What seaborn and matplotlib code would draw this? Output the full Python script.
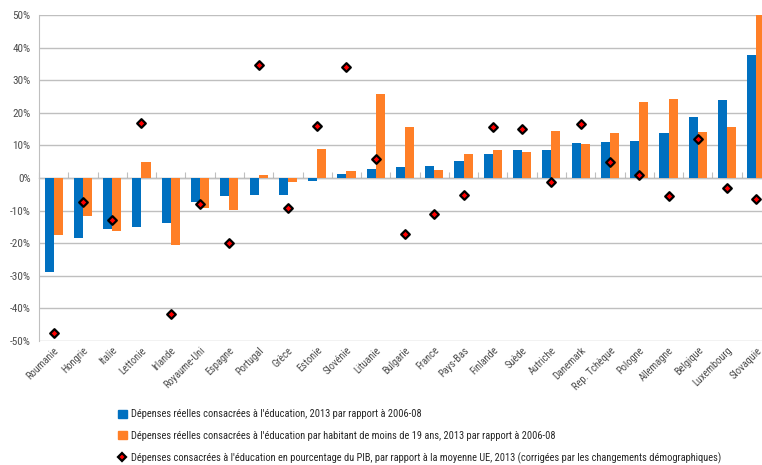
import matplotlib as mpl
mpl.use("Agg")
import matplotlib.pyplot as plt
import matplotlib.patches as mpatches
from matplotlib.lines import Line2D
from matplotlib.ticker import FuncFormatter
import pandas as pd
import seaborn as sns

# donnees (en %)
pays = ['Roumanie', 'Hongrie', 'Italie', 'Lettonie', 'Irlande', 'Royaume-Uni', 'Espagne',
        'Portugal', 'Grèce', 'Estonie', 'Slovénie', 'Lituanie', 'Bulgarie', 'France',
        'Pays-Bas', 'Finlande', 'Suède', 'Autriche', 'Danemark', 'Rep. Tchèque',
        'Pologne', 'Allemagne', 'Belgique', 'Luxembourg', 'Slovaquie']
depenses_reelles = [-28.9, -18.3, -15.7, -15.1, -13.9, -7.3, -5.6, -5.1, -5.1, -1.0,
                    1.3, 2.9, 3.4, 3.7, 5.2, 7.4, 8.6, 8.7, 10.7, 11.0,
                    11.3, 13.7, 18.7, 23.9, 37.7]
depenses_par_habitant = [-17.5, -11.8, -16.2, 4.9, -20.6, -9.1, -9.7, 1.0, -1.1, 8.9,
                         2.1, 25.7, 15.5, 2.4, 7.3, 8.5, 8.1, 14.3, 10.5, 13.8,
                         23.4, 24.2, 14.1, 15.5, 52.0]
depenses_pib = [-47.5, -7.5, -13.0, 16.8, -41.7, -8.1, -19.9, 34.7, -9.1, 16.0,
                34.0, 5.8, -17.2, -11.1, -5.3, 15.5, 15.0, -1.3, 16.6, 4.8,
                0.8, -5.4, 11.9, -3.2, -6.4]

lib_bleu = "Dépenses réelles consacrées à l'éducation, 2013 par rapport à 2006-08"
lib_orange = ("Dépenses réelles consacrées à l'éducation par habitant de moins de 19 ans, "
              "2013 par rapport à 2006-08")
lib_point = ("Dépenses consacrées à l'éducation en pourcentage du PIB, par rapport à la moyenne UE, "
             "2013 (corrigées par les changements démographiques)")

bleu = '#0070C0'
orange = '#FF7F27'
gris = '#BFBFBF'
texte = '#4D4D4D'

sns.set_style('white')
plt.rcParams['font.family'] = ['Liberation Sans Narrow', 'Roboto Condensed', 'DejaVu Sans']
plt.rcParams['font.stretch'] = 'condensed'

df_barres = pd.DataFrame({
    'pays': pays * 2,
    'valeur': depenses_reelles + depenses_par_habitant,
    'serie': [lib_bleu] * len(pays) + [lib_orange] * len(pays),
})
df_points = pd.DataFrame({'pays': pays, 'valeur': depenses_pib})

fig = plt.figure(figsize=(7.62, 4.65), dpi=100)
ax = fig.add_axes([39 / 762, 1 - 341 / 465, 732 / 762, 326 / 465])

sns.barplot(data=df_barres, x='pays', y='valeur', hue='serie', order=pays,
            palette=[bleu, orange], width=0.62, saturation=1, legend=False, ax=ax,
            edgecolor='none', zorder=2)
sns.stripplot(data=df_points, x='pays', y='valeur', order=pays, jitter=False,
              marker='D', size=4.4, color='#FF0000', edgecolor='black', linewidth=1.6,
              ax=ax, zorder=4)

ax.set_xlim(-0.5, len(pays) - 0.5)
ax.set_ylim(-50, 50)
ax.set_yticks(range(-50, 51, 10))
ax.yaxis.set_major_formatter(FuncFormatter(lambda v, p: '{:.0f}%'.format(v)))
ax.yaxis.grid(True, color=gris, linewidth=1)
ax.set_axisbelow(True)
for s in ['top', 'right', 'bottom']:
    ax.spines[s].set_visible(False)
ax.spines['left'].set_color(gris)
ax.tick_params(axis='y', length=4, color=gris, labelsize=8, labelcolor=texte, pad=2, direction='out')
ax.tick_params(axis='x', length=0, labelsize=7.5, labelcolor=texte, pad=3)
ax.set_xlabel('')
ax.set_ylabel('')
for lbl in ax.get_xticklabels():
    lbl.set_rotation(45)
    lbl.set_ha('right')
    lbl.set_rotation_mode('anchor')

# axe a la ligne 0 avec des petites graduations entre les pays
ax0 = ax.secondary_xaxis(0.5)
ax0.set_xticks([i + 0.5 for i in range(-1, len(pays))])
ax0.set_xticklabels([])
ax0.tick_params(length=4, color=gris, direction='out')
ax0.spines['bottom'].set_color(gris)

hnd = [mpatches.Patch(color=bleu, label=lib_bleu),
       mpatches.Patch(color=orange, label=lib_orange),
       Line2D([], [], marker='D', linestyle='none', markersize=4.4, markerfacecolor='#FF0000',
              markeredgecolor='black', markeredgewidth=1.6, label=lib_point)]
fig.legend(handles=hnd, loc='upper left', bbox_to_anchor=(114 / 762, 1 - 405 / 465),
           frameon=False, fontsize=7.5, labelcolor='#262626', handlelength=0.8, handleheight=0.8,
           handletextpad=0.4, labelspacing=1.1, borderaxespad=0)

plt.savefig('out.png', dpi=100)
